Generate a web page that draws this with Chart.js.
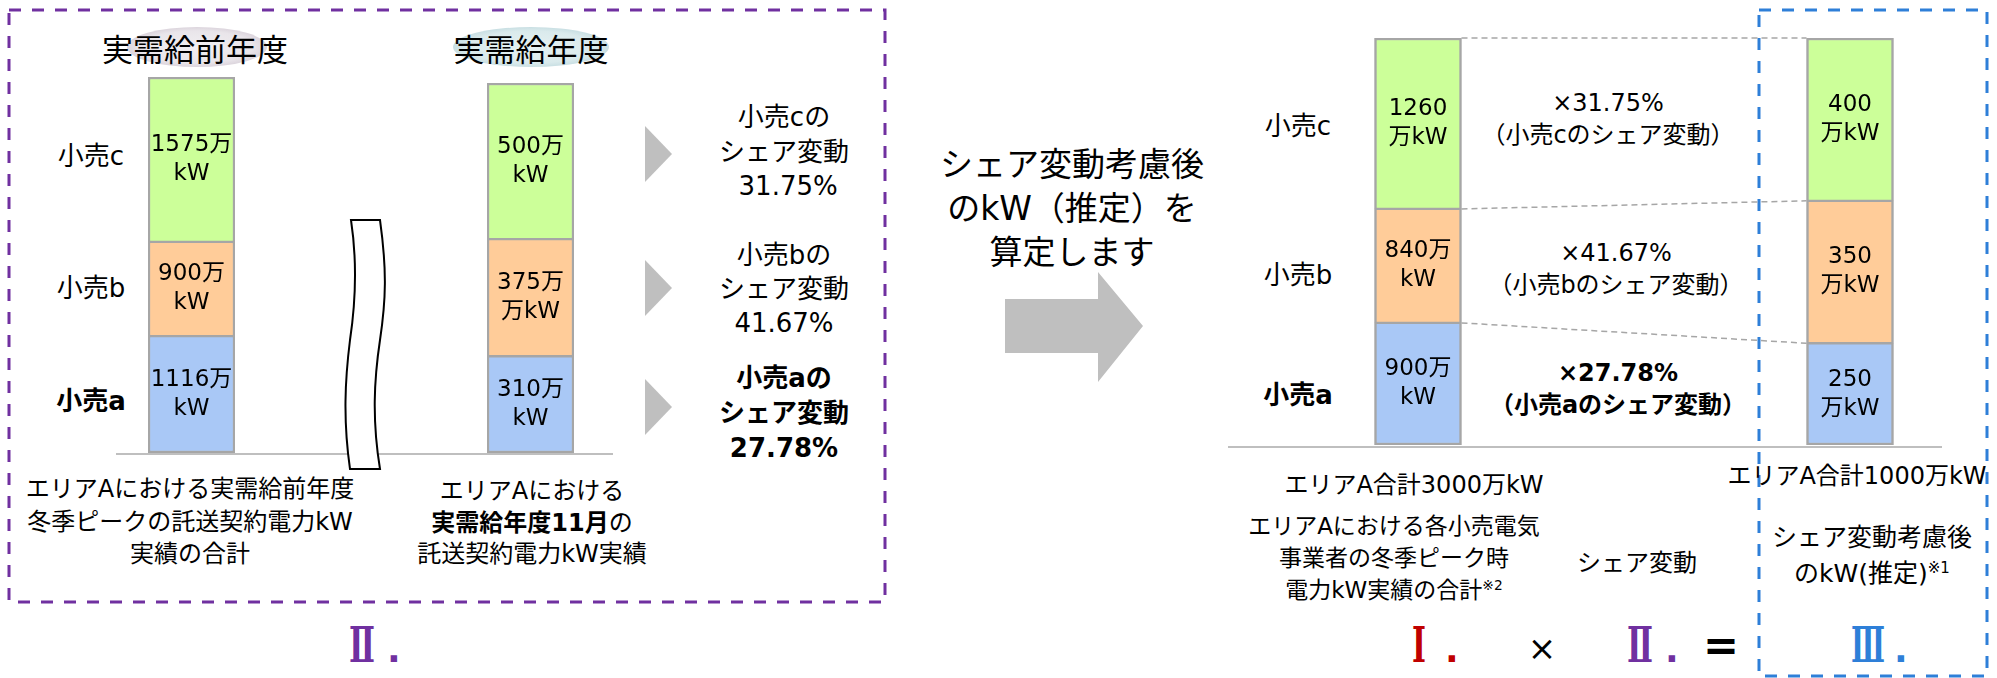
<!DOCTYPE html>
<html lang="ja">
<head>
<meta charset="utf-8">
<title>シェア変動考慮後のkW（推定）の算定</title>
<script src="https://cdn.jsdelivr.net/npm/chart.js@4.4.1/dist/chart.umd.min.js"></script>
<style>
  html, body { margin: 0; padding: 0; background: #fff; }
  #page {
    position: relative; width: 1997px; height: 678px; overflow: hidden;
    font-family: "DejaVu Sans", "Noto Sans CJK JP", sans-serif; color: #000;
  }
  .t { position: absolute; transform: translate(-50%, -50%); white-space: nowrap; text-align: center; }
  .b { font-weight: bold; }
  .box { position: absolute; }
  .note { font-size: 60%; position: relative; top: -0.6em; }
  svg.deco { position: absolute; left: 0; top: 0; }
  .roman { font-family: "DejaVu Serif", "Liberation Serif", serif; font-weight: bold; font-size: 48px; }
  .dot { font-family: "DejaVu Sans", sans-serif; font-weight: bold; font-size: 36px; }
</style>
</head>
<body>
<div id="page">
  <svg class="deco" width="1997" height="678">
    <defs>
      <radialGradient id="gPrev" cx="50%" cy="50%" r="50%">
        <stop offset="0" stop-color="#F1EFF1"/>
        <stop offset="0.8" stop-color="#E9E5EA"/>
        <stop offset="1" stop-color="#DCD5DD"/>
      </radialGradient>
      <radialGradient id="gCur" cx="50%" cy="50%" r="50%">
        <stop offset="0" stop-color="#E6F1F2"/>
        <stop offset="0.8" stop-color="#DAEAEC"/>
        <stop offset="1" stop-color="#C9DFE3"/>
      </radialGradient>
    </defs>
    <!-- title ovals -->
    <ellipse cx="197" cy="47" rx="70" ry="20" fill="url(#gPrev)"/>
    <ellipse cx="531" cy="47" rx="78" ry="20" fill="url(#gCur)"/>
    <!-- group frames -->
    <rect x="9" y="10" width="876" height="592" fill="none" stroke="#7030A0" stroke-width="3" stroke-dasharray="12 11"/>
    <rect x="1759" y="10" width="228" height="666" fill="none" stroke="#2E7FD8" stroke-width="3" stroke-dasharray="12 11"/>
    <!-- baselines -->
    <line x1="116" y1="454" x2="613" y2="454" stroke="#BFBFBF" stroke-width="2"/>
    <line x1="1228" y1="447" x2="1942" y2="447" stroke="#BFBFBF" stroke-width="2"/>
    <!-- axis break between the two years -->
    <path d="M351,220 L380,220 C387,270 386,300 380,340 C374,380 372,420 380,469 L350,469 C343,420 345,380 350,340 C356,300 357,260 351,220 Z"
          fill="#fff" stroke="#000" stroke-width="2"/>
    <!-- pointers to the share changes -->
    <polygon points="645,126 672,154 645,182" fill="#BFBFBF"/>
    <polygon points="645,260 672,288 645,316" fill="#BFBFBF"/>
    <polygon points="645,379 672,407 645,435" fill="#BFBFBF"/>
    <!-- block arrow -->
    <polygon points="1005,299 1098,299 1098,272 1143,326 1098,382 1098,353 1005,353" fill="#BFBFBF"/>

    <!-- step numbers and the formula -->
    <g fill="#7030A0">
      <text class="roman" x="349" y="662" textLength="26" lengthAdjust="spacingAndGlyphs">Ⅱ</text>
      <text class="dot" x="387" y="662">.</text>
    </g>
    <g fill="#C00000">
      <text class="roman" x="1412" y="662" textLength="14" lengthAdjust="spacingAndGlyphs">Ⅰ</text>
      <text class="dot" x="1445" y="662">.</text>
    </g>
    <g fill="#7030A0">
      <text class="roman" x="1627" y="662" textLength="26" lengthAdjust="spacingAndGlyphs">Ⅱ</text>
      <text class="dot" x="1665" y="662">.</text>
    </g>
    <text x="1703" y="660" font-family="DejaVu Sans" font-weight="bold" font-size="44" textLength="36" lengthAdjust="spacingAndGlyphs" fill="#000">=</text>
    <g fill="#2E7FD8">
      <text class="roman" x="1851" y="662" textLength="34" lengthAdjust="spacingAndGlyphs">Ⅲ</text>
      <text class="dot" x="1894" y="662">.</text>
    </g>
  </svg>

  <!-- left group: share change per retailer -->
  <div class="t" style="left:195px;top:47px;font-size:31px;">実需給前年度</div>
  <div class="t" style="left:531px;top:47px;font-size:31px;">実需給年度</div>

  <div class="t" style="left:91px;top:153px;font-size:26px;">小売c</div>
  <div class="t" style="left:91px;top:285px;font-size:26px;">小売b</div>
  <div class="t b" style="left:91px;top:398px;font-size:26px;">小売a</div>

  <div class="t" style="left:190px;top:522px;font-size:24px;line-height:32.5px;">エリアAにおける実需給前年度<br>冬季ピークの託送契約電力kW<br>実績の合計</div>
  <div class="t" style="left:532px;top:523px;font-size:24px;line-height:31.5px;">エリアAにおける<br><span class="b">実需給年度11月</span>の<br>託送契約電力kW実績</div>

  <div class="t" style="left:784px;top:152px;font-size:26px;line-height:34.5px;">小売cの<br>シェア変動<br>&nbsp;31.75%</div>
  <div class="t" style="left:784px;top:289px;font-size:26px;line-height:34px;">小売bの<br>シェア変動<br>41.67%</div>
  <div class="t b" style="left:784px;top:413px;font-size:26px;line-height:35px;">小売aの<br>シェア変動<br>27.78%</div>

  <!-- centre message -->
  <div class="t" style="left:1072px;top:209px;font-size:33px;line-height:44px;">シェア変動考慮後<br>のkW（推定）を<br>算定します</div>

  <!-- right group: I x II = III -->
  <div class="t" style="left:1298px;top:123px;font-size:26px;">小売c</div>
  <div class="t" style="left:1298px;top:272px;font-size:26px;">小売b</div>
  <div class="t b" style="left:1298px;top:392px;font-size:26px;">小売a</div>

  <div class="t" style="left:1608px;top:119px;font-size:24px;line-height:32px;">×31.75%<br>（小売cのシェア変動）</div>
  <div class="t" style="left:1616px;top:269px;font-size:24px;line-height:32px;">×41.67%<br>（小売bのシェア変動）</div>
  <div class="t b" style="left:1618px;top:389px;font-size:24px;line-height:32px;">×27.78%<br>（小売aのシェア変動）</div>

  <div class="t" style="left:1414px;top:482px;font-size:24px;">エリアA合計3000万kW</div>
  <div class="t" style="left:1857px;top:473px;font-size:24px;">エリアA合計1000万kW</div>

  <div class="t" style="left:1394px;top:559px;font-size:23px;line-height:32px;">エリアAにおける各小売電気<br>事業者の冬季ピーク時<br>電力kW実績の合計<span class="note">※2</span></div>
  <div class="t" style="left:1637px;top:560px;font-size:24px;">シェア変動</div>
  <div class="t" style="left:1872px;top:557px;font-size:25px;line-height:36px;">シェア変動考慮後<br>のkW(推定)<span class="note">※1</span></div>

  <div class="t" style="left:1542px;top:648px;font-size:34px;">×</div>

  <div class="box" style="left:144px;top:73px;width:95px;height:384px;"><canvas id="prevChart" width="95" height="384"></canvas></div>
  <div class="box" style="left:483px;top:79px;width:95px;height:378px;"><canvas id="curChart" width="95" height="378"></canvas></div>
  <div class="box" style="left:1306px;top:34px;width:656px;height:415px;"><canvas id="calcChart" width="656" height="415"></canvas></div>
</div>

<script>
// Retailers, stacked bottom to top
const retailers = ['小売a', '小売b', '小売c'];

// 実需給前年度 冬季ピークの託送契約電力kW（万kW）
const prevYearKw = [1116, 900, 1575];
// 実需給年度11月の託送契約電力kW（万kW）
const currentNovKw = [310, 375, 500];
// Ⅰ. 各小売電気事業者の冬季ピーク時電力kW実績（万kW）
const winterPeakKw = [900, 840, 1260];
// Ⅲ. シェア変動考慮後のkW（推定）（万kW）
const estimatedKw = [250, 350, 400];

// Text inside each segment; {v} is replaced by the segment's value
const prevYearLabels = [['{v}万', 'kW'], ['{v}万', 'kW'], ['{v}万', 'kW']];
const currentNovLabels = [['{v}万', 'kW'], ['{v}万', '万kW'], ['{v}万', 'kW']];
const winterPeakLabels = [['{v}万', 'kW'], ['{v}万', 'kW'], ['{v}', '万kW']];
const estimatedLabels = [['{v}', '万kW'], ['{v}', '万kW'], ['{v}', '万kW']];

const segmentColors = ['#A9C8F6', '#FFCC99', '#CCFF99'];
const segmentBorders = [
  { top: 1.5, bottom: 2.5, left: 2.5, right: 2.5 },
  { top: 1.5, bottom: 1.5, left: 2.5, right: 2.5 },
  { top: 2.5, bottom: 1.5, left: 2.5, right: 2.5 }
];
const sum = arr => arr.reduce((s, v) => s + v, 0);

// one stacked column, placed in `slot` of `slotCount` categories, on its own value axis
function columnDatasets(values, labels, axisId, slot, slotCount) {
  return values.map((v, i) => {
    const data = new Array(slotCount).fill(null);
    data[slot] = v;
    return {
      label: retailers[i],
      data,
      yAxisID: axisId,
      backgroundColor: segmentColors[i],
      borderColor: '#A6A6A6',
      borderWidth: segmentBorders[i],
      borderSkipped: false,
      barThickness: 87,
      skipNull: true,
      labelLines: labels[i]
    };
  });
}

const segmentLabels = {
  id: 'segmentLabels',
  afterDatasetsDraw(chart) {
    const ctx = chart.ctx;
    ctx.save();
    ctx.font = '23px "DejaVu Sans", "Noto Sans CJK JP", sans-serif';
    ctx.fillStyle = '#000';
    ctx.textAlign = 'center';
    ctx.textBaseline = 'middle';
    chart.data.datasets.forEach((ds, di) => {
      chart.getDatasetMeta(di).data.forEach((el, j) => {
        const v = ds.data[j];
        if (v === null || v === undefined) return;
        const lines = ds.labelLines.map(s => s.replace('{v}', v));
        const cy = (el.y + el.base) / 2;
        lines.forEach((line, k) => {
          ctx.fillText(line, el.x, cy + (k - (lines.length - 1) / 2) * 29);
        });
      });
    });
    ctx.restore();
  }
};

// dashed guides joining the segment tops of column Ⅰ and column Ⅲ
const shareGuides = {
  id: 'shareGuides',
  beforeDatasetsDraw(chart) {
    const n = retailers.length;
    const ctx = chart.ctx;
    ctx.save();
    ctx.strokeStyle = '#A6A6A6';
    ctx.lineWidth = 1.5;
    ctx.setLineDash([6, 4]);
    for (let i = 0; i < n; i++) {
      const from = chart.getDatasetMeta(i).data[0];
      const to = chart.getDatasetMeta(n + i).data[2];
      ctx.beginPath();
      ctx.moveTo(from.x + from.width / 2, from.y);
      ctx.lineTo(to.x - to.width / 2, to.y);
      ctx.stroke();
    }
    ctx.restore();
  }
};

function baseOptions(yScales) {
  const scales = { x: { display: false, stacked: true } };
  Object.entries(yScales).forEach(([id, max]) => {
    scales[id] = { display: false, stacked: true, min: 0, max };
  });
  return {
    responsive: false,
    animation: false,
    devicePixelRatio: 1,
    layout: { padding: 4 },
    scales,
    plugins: { legend: { display: false }, tooltip: { enabled: false } }
  };
}

new Chart(document.getElementById('prevChart'), {
  type: 'bar',
  data: { labels: ['実需給前年度'], datasets: columnDatasets(prevYearKw, prevYearLabels, 'y', 0, 1) },
  options: baseOptions({ y: sum(prevYearKw) }),
  plugins: [segmentLabels]
});

new Chart(document.getElementById('curChart'), {
  type: 'bar',
  data: { labels: ['実需給年度'], datasets: columnDatasets(currentNovKw, currentNovLabels, 'y', 0, 1) },
  options: baseOptions({ y: sum(currentNovKw) }),
  plugins: [segmentLabels]
});

new Chart(document.getElementById('calcChart'), {
  type: 'bar',
  data: {
    labels: ['Ⅰ', 'Ⅱ', 'Ⅲ'],
    datasets: [
      ...columnDatasets(winterPeakKw, winterPeakLabels, 'yI', 0, 3),
      ...columnDatasets(estimatedKw, estimatedLabels, 'yIII', 2, 3)
    ]
  },
  options: baseOptions({ yI: sum(winterPeakKw), yIII: sum(estimatedKw) }),
  plugins: [shareGuides, segmentLabels]
});
</script>
</body>
</html>
